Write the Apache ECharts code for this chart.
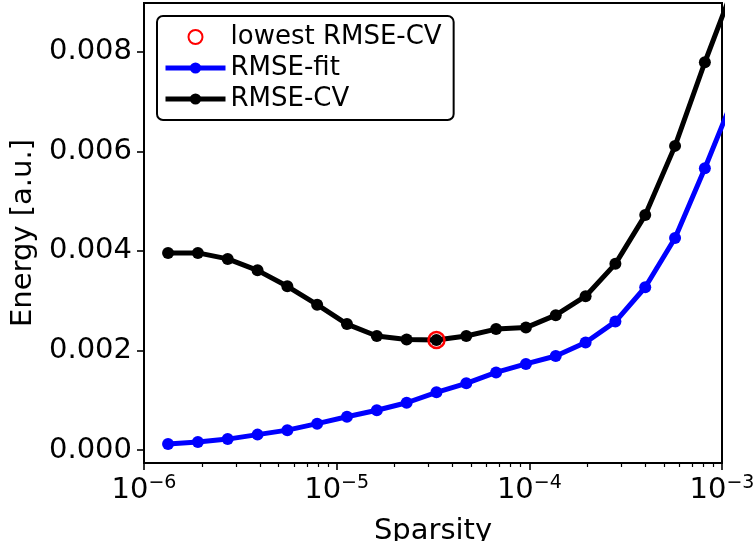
<!DOCTYPE html>
<html>
<head>
<meta charset="utf-8">
<script src="https://cdn.jsdelivr.net/npm/echarts@6/dist/echarts.min.js"></script>
<style>
html,body{margin:0;padding:0;background:#fff;}
#c{width:756px;height:541px;}
</style>
</head>
<body>
<div id="c"></div>
<script>
// ---- data ----
const sparsity = [1.333e-6, 1.904e-6, 2.719e-6, 3.884e-6, 5.546e-6, 7.920e-6, 1.131e-5, 1.616e-5, 2.308e-5, 3.296e-5,
                  4.707e-5, 6.722e-5, 9.603e-5, 1.371e-4, 1.959e-4, 2.797e-4, 3.995e-4, 5.706e-4, 8.149e-4, 1.164e-3];
const rmseFit = [0.00012, 0.00016, 0.00022, 0.00031, 0.00040, 0.00053, 0.00067, 0.00080, 0.00095, 0.00116,
                 0.00134, 0.00156, 0.00173, 0.00189, 0.00216, 0.00258, 0.00327, 0.00426, 0.00566, 0.00714];
const rmseCV  = [0.00396, 0.00396, 0.00384, 0.00361, 0.00329, 0.00292, 0.00253, 0.00229, 0.00222, 0.00221,
                 0.00229, 0.00243, 0.00246, 0.00271, 0.00309, 0.00374, 0.00472, 0.00611, 0.00779, 0.00937];
const lowestIndex = 9;
const yTicks = [0, 0.002, 0.004, 0.006, 0.008];
const xMajorTicks = [1e-6, 1e-5, 1e-4, 1e-3];
const xMinorTicks = [2e-6,3e-6,4e-6,5e-6,6e-6,7e-6,8e-6,9e-6,
                     2e-5,3e-5,4e-5,5e-5,6e-5,7e-5,8e-5,9e-5,
                     2e-4,3e-4,4e-4,5e-4,6e-4,7e-4,8e-4,9e-4];
const seriesNames = ['lowest RMSE-CV', 'RMSE-fit', 'RMSE-CV'];

const FONT = 'DejaVu Sans';
const chart = echarts.init(document.getElementById('c'), null, {renderer: 'canvas'});

const fitData = sparsity.map((x, i) => [x, rmseFit[i]]);
const cvData = sparsity.map((x, i) => [x, rmseCV[i]]);
const lowestData = [[sparsity[lowestIndex], rmseCV[lowestIndex]]];

const option = {
  animation: false,
  backgroundColor: '#fff',
  textStyle: {fontFamily: FONT},
  grid: {left: 144, right: 34, top: 3, bottom: 78, show: true, borderColor: '#000', borderWidth: 2,
         backgroundColor: 'transparent', containLabel: false, outerBoundsMode: 'none'},
  legend: {
    orient: 'vertical', left: 157, top: 16,
    padding: [6, 12, 6, 6], itemGap: 1, itemWidth: 60, itemHeight: 14,
    borderColor: '#000', borderWidth: 2, borderRadius: 6, backgroundColor: '#fff',
    textStyle: {fontSize: 26, color: '#000', fontFamily: FONT, lineHeight: 30},
    lineStyle: {width: 5},
    data: seriesNames
  },
  xAxis: [{
    type: 'log', logBase: 10, min: xMajorTicks[0], max: xMajorTicks[xMajorTicks.length - 1],
    position: 'bottom',
    name: 'Sparsity', nameLocation: 'middle', nameGap: 54,
    nameTextStyle: {fontSize: 29, color: '#000', fontFamily: FONT},
    axisLine: {show: true, onZero: false, lineStyle: {color: '#000', width: 2}},
    axisTick: {show: true, inside: false, length: 7, lineStyle: {color: '#000', width: 1.6}},
    splitLine: {show: false},
    axisLabel: {
      margin: 8, color: '#000',
      formatter: function (v) {
        const e = Math.round(Math.log10(v));
        return '{b|10}{s|\u2212' + Math.abs(e) + '}';
      },
      rich: {
        b: {fontSize: 29, fontFamily: FONT, color: '#000', verticalAlign: 'bottom', lineHeight: 34},
        s: {fontSize: 19, fontFamily: FONT, color: '#000', verticalAlign: 'bottom', lineHeight: 34, padding: [0, 0, 12, 0]}
      }
    }
  }, {
    type: 'value', min: Math.log10(xMajorTicks[0]), max: Math.log10(xMajorTicks[xMajorTicks.length - 1]),
    position: 'bottom', gridIndex: 0,
    axisLine: {show: false, onZero: false},
    splitLine: {show: false},
    axisLabel: {show: false, customValues: []},
    axisTick: {show: true, inside: false, length: 4, lineStyle: {color: '#000', width: 1.2},
               customValues: xMinorTicks.map(v => Math.log10(v))}
  }],
  yAxis: {
    type: 'value', min: -0.00026, max: 0.00898,
    name: 'Energy [a.u.]', nameLocation: 'middle', nameGap: 103,
    nameTextStyle: {fontSize: 29, color: '#000', fontFamily: FONT},
    axisLine: {show: true, onZero: false, lineStyle: {color: '#000', width: 2}},
    axisTick: {show: true, inside: false, length: 7, lineStyle: {color: '#000', width: 1.6}, customValues: yTicks},
    splitLine: {show: false},
    axisLabel: {margin: 12, color: '#000', fontSize: 29, fontFamily: FONT, customValues: yTicks,
      formatter: v => v.toFixed(3)}
  },
  series: [
    {
      name: 'RMSE-fit', type: 'line', xAxisIndex: 0, data: fitData,
      symbol: 'circle', symbolSize: 12, showSymbol: true, clip: true,
      lineStyle: {color: '#0000ff', width: 5},
      itemStyle: {color: '#0000ff'}, z: 2
    },
    {
      name: 'RMSE-CV', type: 'line', xAxisIndex: 0, data: cvData,
      symbol: 'circle', symbolSize: 12, showSymbol: true, clip: true,
      lineStyle: {color: '#000000', width: 5},
      itemStyle: {color: '#000000'}, z: 3
    },
    {
      name: 'lowest RMSE-CV', type: 'scatter', xAxisIndex: 0, data: lowestData,
      symbol: 'circle', symbolSize: 16,
      itemStyle: {color: 'rgba(0,0,0,0)', borderColor: '#ff0000', borderWidth: 2.5, opacity: 1}, z: 4
    }
  ]
};
chart.setOption(option);
</script>
</body>
</html>
